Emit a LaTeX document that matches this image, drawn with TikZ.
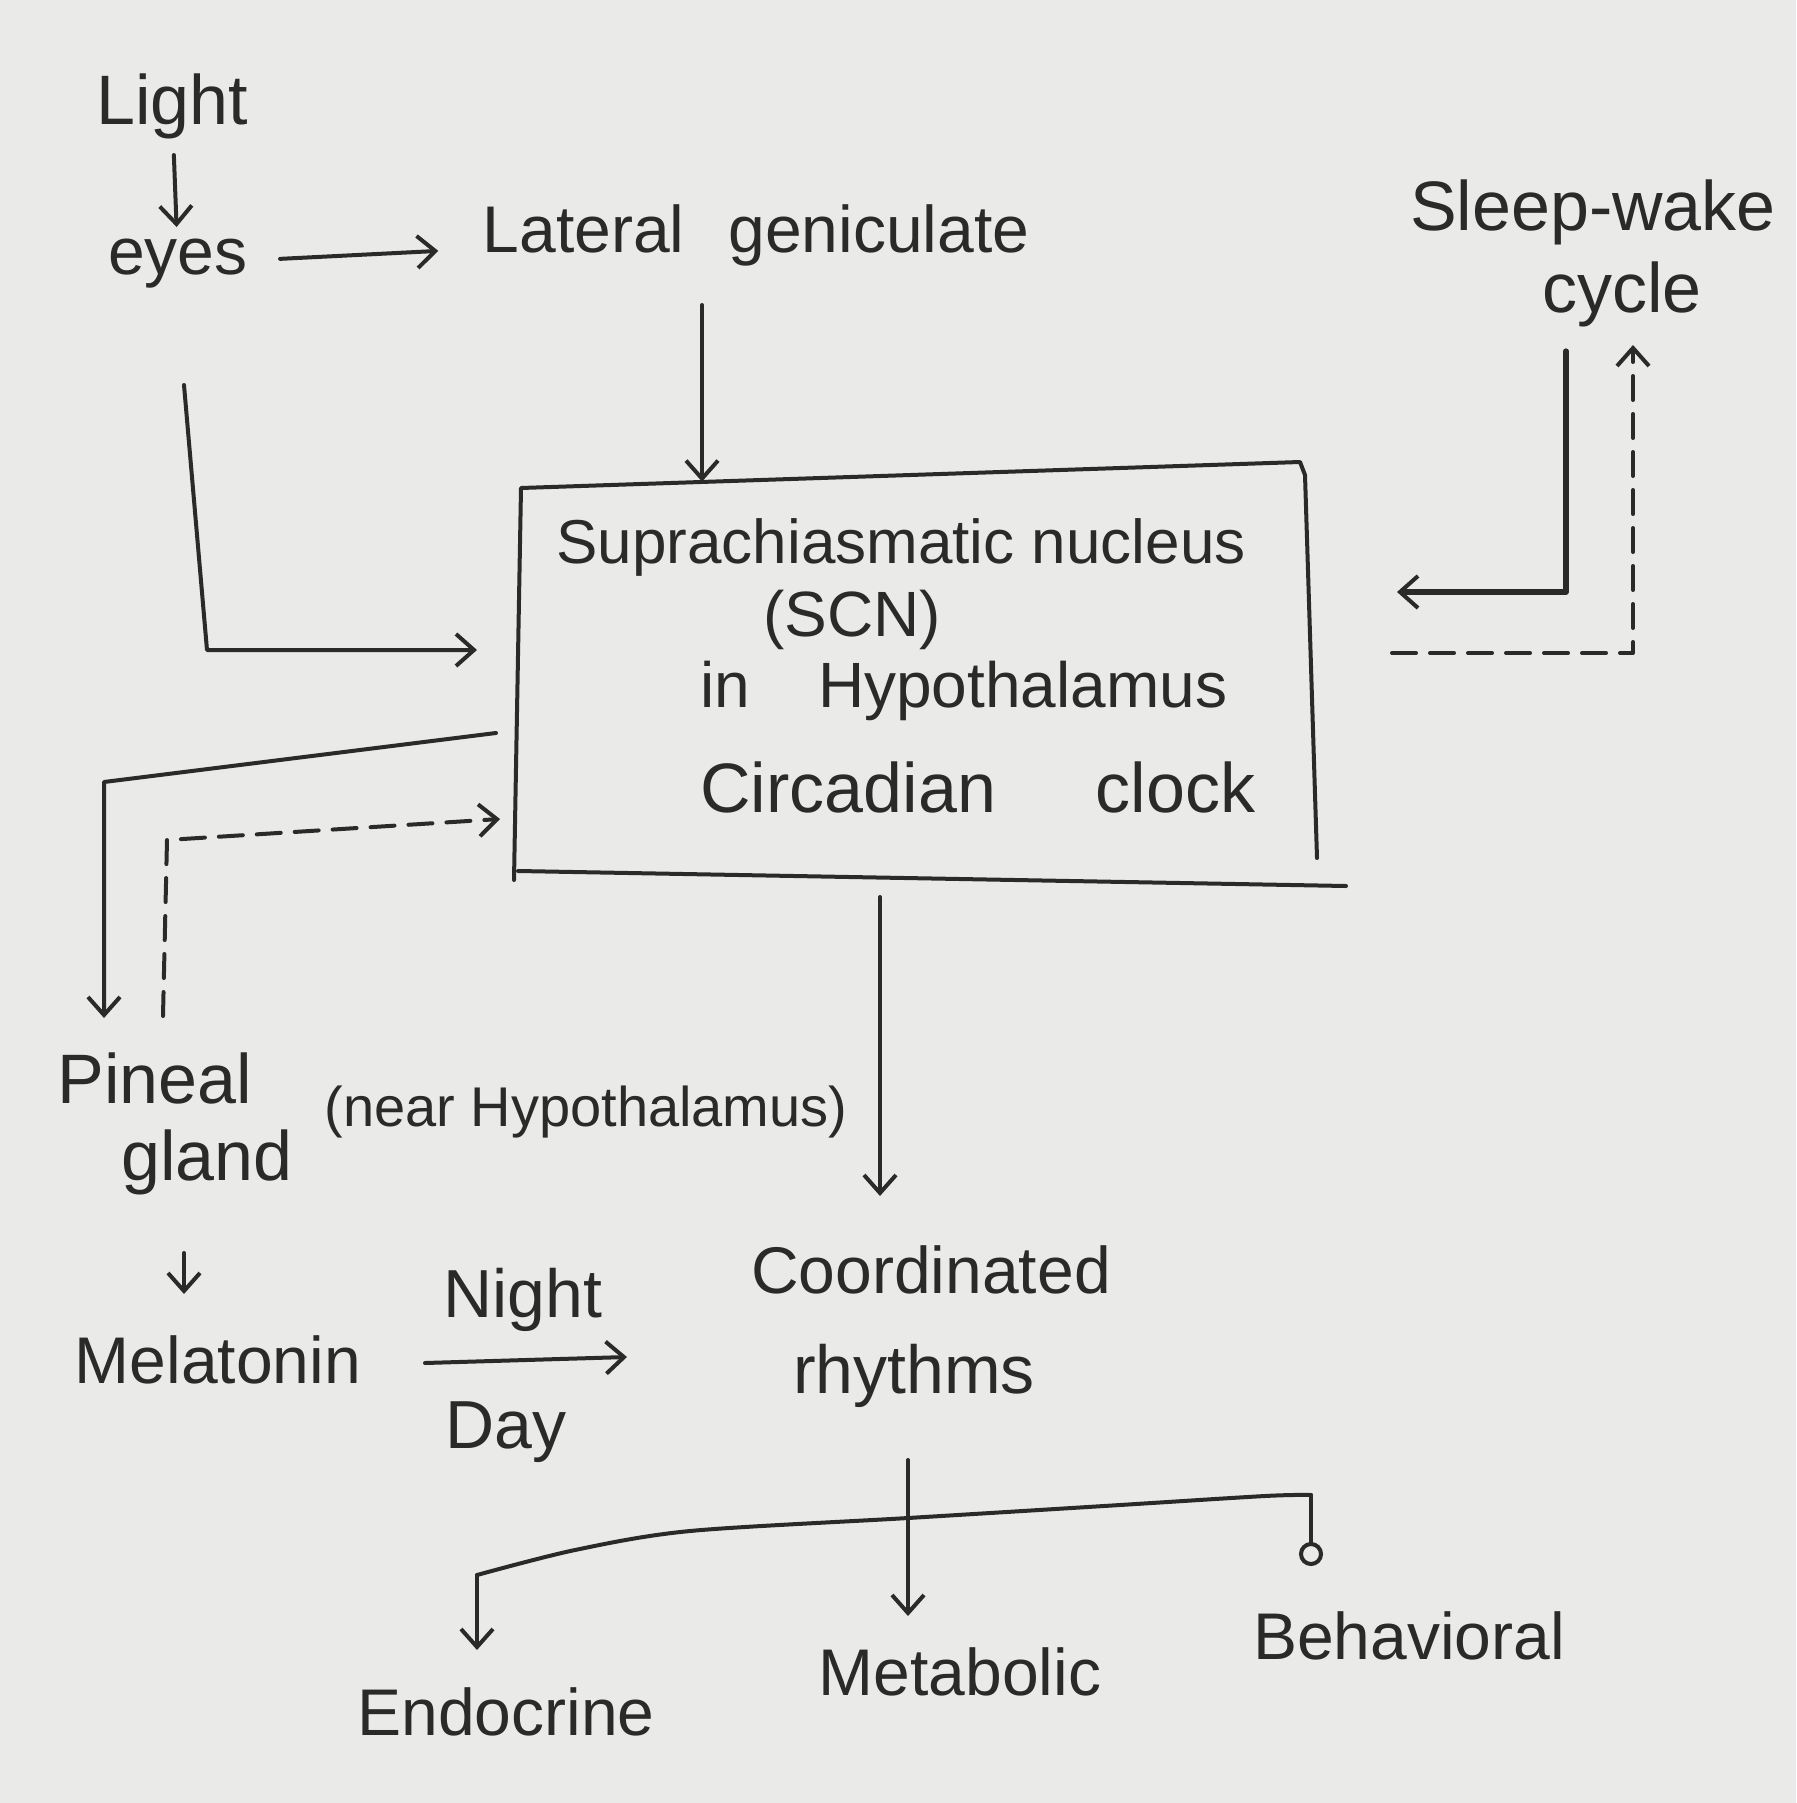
\documentclass[tikz,border=0pt]{standalone}
\usepackage{fontspec}
\setmainfont{Liberation Sans}
\usetikzlibrary{arrows.meta}
\definecolor{paper}{RGB}{234,234,232}
\definecolor{ink}{RGB}{42,42,42}
\begin{document}
\begin{tikzpicture}[x=0.5pt,y=-0.5pt,
  txt/.style={text=ink, inner sep=2pt, font=\fontsize{33}{38}\selectfont},
  big/.style={txt, font=\fontsize{35}{40}\selectfont},
  boxtxt/.style={txt, anchor=base west, font=\fontsize{32}{38}\selectfont},
  pen/.style={draw=ink, line width=2pt, line cap=round, line join=round},
  tip/.style={-{Straight Barb[length=9pt,width=16pt,line width=2pt]}},
  arr/.style={pen, tip},
  dsh/.style={pen, dash pattern=on 12pt off 7pt},
  darr/.style={dsh, tip}]
\useasboundingbox (0,0) rectangle (1796,1803);
\fill[paper] (0,0) rectangle (1796,1803);

% ---- text nodes ----
\node[big] (light) at (172,106) {Light};
\node[txt] (eyes) at (178,264) {eyes};
\node[txt] (lgn) at (756,235) {Lateral\hspace{22pt}geniculate};
\node[big] (sleep) at (1593,212) {Sleep-wake};
\node[big] (cycle) at (1622,294) {cycle};

% SCN box
\node (scn) at (916,680) [minimum width=398pt, minimum height=198pt, inner sep=0pt] {};
\draw[pen] (514,880) -- (521,488) -- (1300,462) -- (1305,475) -- (1317,858);
\draw[pen] (518,871) -- (1346,886);
\node[boxtxt, font=\fontsize{31}{36}\selectfont] (scn1) at (552,563) {Suprachiasmatic nucleus};
\node[boxtxt] (scn2) at (759,636) {(SCN)};
\node[boxtxt] (scn3) at (696,707) {in\hspace{34pt}Hypothalamus};
\node[boxtxt, font=\fontsize{35}{40}\selectfont] (scn4) at (696,812) {Circadian\hspace{50pt}clock};

\node[big] (pineal) at (155,1078) {Pineal};
\node[big] (gland) at (207,1162) {gland};
\node[txt, font=\fontsize{28}{32}\selectfont] (near) at (586,1112) {(near Hypothalamus)};
\node[txt] (mel) at (218,1360) {Melatonin};
\node[txt, font=\fontsize{34}{38}\selectfont] (night) at (523,1300) {Night};
\node[txt, font=\fontsize{34}{38}\selectfont] (day) at (506,1432) {Day};
\node[txt] (coord) at (931,1270) {Coordinated};
\node[txt, font=\fontsize{34}{38}\selectfont] (rhythm) at (914,1376) {rhythms};
\node[txt] (endo) at (506,1712) {Endocrine};
\node[txt] (meta) at (960,1672) {Metabolic};
\node[txt] (beha) at (1409,1636) {Behavioral};

% ---- connector coordinates ----
\coordinate (eA) at (184,385);
\coordinate (eB) at (207,650);
\coordinate (eC) at (477,650);
\coordinate (lA) at (702,305);
\coordinate (pA) at (496,733);
\coordinate (pB) at (104,782);
\coordinate (pC) at (104,1018);
\coordinate (dA) at (163,1016);
\coordinate (dB) at (167,840);
\coordinate (dC) at (500,819);
\coordinate (sA) at (1566,351);
\coordinate (sB) at (1566,592);
\coordinate (sC) at (1397,592);
\coordinate (wA) at (1392,653);
\coordinate (wB) at (1633,653);
\coordinate (wC) at (1633,345);
\coordinate (kA) at (880,897);
\coordinate (kB) at (880,1196);
\coordinate (mA) at (184,1253);
\coordinate (mB) at (184,1294);
\coordinate (nA) at (425,1363);
\coordinate (nB) at (627,1357);
\coordinate (rA) at (908,1460);
\coordinate (rB) at (908,1616);
\coordinate (bL) at (477,1575);
\coordinate (bR) at (1311,1495);
\coordinate (bE) at (477,1650);
\coordinate (bB) at (1311,1566);

% ---- connectors ----
\draw[arr, shorten <=6pt, shorten >=4pt] (light) -- (eyes);
\draw[arr, shorten <=14pt, shorten >=20pt] (eyes) -- (lgn);
\draw[arr] (lA) -- (lA |- scn.north);
\draw[arr] (eA) -- (eB) -- (eC);
\draw[arr] (pA) -- (pB) -- (pC);
\draw[darr] (dA) -- (dB) -- (dC);
\draw[arr, line width=2.6pt] (sA) -- (sB) -- (sC);
\draw[darr] (wA) -- (wB) -- (wC);
\draw[arr] (kA) -- (kB);
\draw[arr] (mA) -- (mB);
\draw[arr] (nA) -- (nB);
\draw[arr] (rA) -- (rB);
\draw[pen] plot[smooth, tension=0.5] coordinates {(bL) (575,1550) (690,1531) (908,1518) (1104,1506) (1265,1496) (bR)};
\draw[arr] (bL) -- (bE);
\draw[pen, -{Circle[open,length=12pt,width=12pt,line width=2pt]}] (bR) -- (bB);
\end{tikzpicture}
\end{document}
